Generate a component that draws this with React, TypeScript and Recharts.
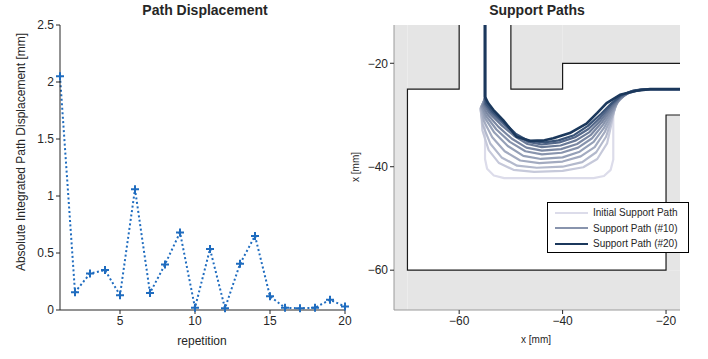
import {
  LineChart,
  Line,
  ScatterChart,
  Scatter,
  XAxis,
  YAxis,
  ReferenceArea,
} from "recharts";

// left panel: displacement per repetition
const repetitions = [1, 2, 3, 4, 5, 6, 7, 8, 9, 10, 11, 12, 13, 14, 15, 16, 17, 18, 19, 20];
const displacement = [
  2.05, 0.156, 0.32, 0.35, 0.13, 1.06, 0.15, 0.4, 0.68, 0.02,
  0.535, 0.015, 0.405, 0.65, 0.12, 0.02, 0.015, 0.02, 0.09, 0.03,
];
const repTicks = [5, 10, 15, 20];
const dispTicks = [0, 0.5, 1, 1.5, 2, 2.5];

// right panel: workspace walls and support paths (mm)
const xMin = -72.6;
const xMax = -17.3;
const yMin = -67.7;
const yMax = -12.6;
const mmTicks = [-60, -40, -20];

// gray blocked regions [x1, x2, y1, y2]
const blocked: [number, number, number, number][] = [
  [xMin, -70, yMin, yMax],
  [-70, xMax, yMin, -60],
  [-70, -60, -25, yMax],
  [-50, -40, -25, yMax],
  [-40, xMax, -20, yMax],
  [-20, xMax, -60, -30],
];

const wallA: [number, number][] = [
  [-60, yMax], [-60, -25], [-70, -25], [-70, -60], [-20, -60], [-20, -30], [xMax, -30],
];
const wallB: [number, number][] = [
  [xMax, -20], [-40, -20], [-40, -25], [-50, -25], [-50, yMax],
];

const path0: [number, number][] = [
  [-55, yMax], [-55, -38.5], [-54.6, -40.4], [-53.3, -41.7], [-51.3, -42.2], [-34, -42.2],
  [-32, -41.8], [-30.7, -40.6], [-30.2, -38.6], [-30.2, -30], [-29.7, -27.6], [-28.3, -26.1],
  [-25.8, -25.3], [-23, -25], [xMax, -25],
];
const path2: [number, number][] = [
  [-55, yMax], [-55, -27], [-55.8, -29], [-55.5, -33], [-54.3, -36.8], [-52.3, -39.3],
  [-49.5, -40.6], [-45.5, -41], [-40, -40.8], [-36, -40.1], [-33.3, -38.5], [-31.4, -35.5],
  [-30.5, -31.5], [-29.8, -28], [-28, -26], [-25.3, -25.2], [-23, -25], [xMax, -25],
];
const path4: [number, number][] = [
  [-55, yMax], [-55, -27], [-55.9, -28.8], [-55.4, -32], [-54, -35.5], [-51.8, -38.2],
  [-48.8, -39.8], [-45, -40.2], [-40, -40], [-36.2, -39.1], [-33.5, -37.2], [-31.6, -34.2],
  [-30.5, -30.8], [-29.6, -27.8], [-27.8, -25.9], [-25.2, -25.2], [-23, -25], [xMax, -25],
];
const path6: [number, number][] = [
  [-55, yMax], [-55, -26.9], [-55.8, -28.6], [-55.2, -31.2], [-53.6, -34.3], [-51.2, -37],
  [-48.2, -38.8], [-44.5, -39.3], [-40, -39], [-36.5, -38], [-33.8, -36.2], [-31.8, -33.2],
  [-30.4, -30], [-29.4, -27.5], [-27.6, -25.8], [-25, -25.1], [-23, -25], [xMax, -25],
];
const path8: [number, number][] = [
  [-55, yMax], [-55, -26.8], [-55.7, -28.4], [-55, -30.6], [-53.2, -33.4], [-50.6, -36],
  [-47.6, -37.9], [-44.2, -38.5], [-40, -38.2], [-36.7, -37.1], [-34, -35.2], [-32, -32.5],
  [-30.4, -29.5], [-29.2, -27.2], [-27.4, -25.7], [-25, -25.1], [-23, -25], [xMax, -25],
];
const path10: [number, number][] = [
  [-55, yMax], [-55, -26.7], [-55.6, -28.3], [-54.8, -30.2], [-52.8, -32.8], [-50.2, -35.2],
  [-47.2, -37], [-44, -37.6], [-40.2, -37.3], [-37, -36.3], [-34.3, -34.5], [-32.2, -31.9],
  [-30.4, -29.1], [-29, -27], [-27.2, -25.6], [-24.8, -25.1], [-23, -25], [xMax, -25],
];
const path12: [number, number][] = [
  [-55, yMax], [-55, -26.6], [-55.4, -28.2], [-54.5, -29.9], [-52.4, -32.3], [-49.8, -34.6],
  [-47, -36.3], [-44, -36.9], [-40.3, -36.6], [-37.2, -35.6], [-34.6, -33.9], [-32.4, -31.4],
  [-30.5, -28.8], [-28.9, -26.8], [-27, -25.5], [-24.7, -25.1], [-23, -25], [xMax, -25],
];
const path14: [number, number][] = [
  [-55, yMax], [-55, -26.6], [-55.2, -28], [-54.2, -29.6], [-52, -31.8], [-49.4, -34],
  [-46.8, -35.6], [-44, -36.2], [-40.4, -35.9], [-37.4, -34.9], [-34.8, -33.3], [-32.6, -31],
  [-30.6, -28.5], [-28.8, -26.6], [-26.8, -25.5], [-24.6, -25.1], [-23, -25], [xMax, -25],
];
const path16: [number, number][] = [
  [-55, yMax], [-55, -26.5], [-55, -27.9], [-53.9, -29.4], [-51.7, -31.5], [-49.2, -33.7],
  [-46.7, -35.2], [-44, -35.7], [-40.6, -35.3], [-37.6, -34.3], [-35, -32.7], [-32.7, -30.5],
  [-30.6, -28.1], [-28.8, -26.4], [-26.6, -25.4], [-24.4, -25.1], [-23, -25], [xMax, -25],
];
const path18: [number, number][] = [
  [-55, yMax], [-55, -26.5], [-54.8, -27.8], [-53.7, -29.2], [-51.6, -31.2], [-49.1, -33.6],
  [-46.6, -35], [-43.5, -35.3], [-40.8, -34.9], [-37.8, -33.9], [-35.1, -32.1], [-32.6, -29.8],
  [-30.5, -27.7], [-28.7, -26.2], [-26.4, -25.3], [-24.2, -25], [-23, -25], [xMax, -25],
];
const path20: [number, number][] = [
  [-55, yMax], [-55, -26.5], [-54.4, -27.7], [-53.4, -29], [-51.5, -31], [-48.9, -34.2],
  [-46.3, -35], [-43.5, -34.9], [-41.8, -34.5], [-38.6, -33.5], [-35.3, -31.6], [-33.3, -29.6],
  [-31.5, -27.7], [-28.9, -26.1], [-25.7, -25.3], [-23.1, -25], [xMax, -25],
];

const paths = [path0, path2, path4, path6, path8, path10, path12, path14, path16, path18, path20];
const pathColors = [
  "#dcdcea", "#c6c9da", "#b3b9cc", "#a3abc0", "#95a0b7", "#8894ad",
  "#7a87a2", "#6a7a97", "#54688a", "#3a5478", "#1b385c",
];
const legendItems = [
  { label: "Initial Support Path", color: "#dcdcea" },
  { label: "Support Path (#10)", color: "#8894ad" },
  { label: "Support Path (#20)", color: "#1b385c" },
];

const font = '"Liberation Sans", Arial, sans-serif';
const ink = "#262626";
const blue = "#1f6cbf";

const dispData = repetitions.map((r, i) => ({ rep: r, value: displacement[i] }));
const toPts = (p: [number, number][]) => p.map(([x, y]) => ({ x, y }));
const minus = (v: number) => String(v).replace("-", "\u2212");

const PlusDot = (props: any) => {
  const { cx, cy } = props;
  if (cx == null || cy == null) return null;
  return (
    <path
      d={`M${cx - 4},${cy}H${cx + 4}M${cx},${cy - 4}V${cy + 4}`}
      stroke={blue}
      strokeWidth={2}
      fill="none"
    />
  );
};

const NoShape = () => <g />;

const abs = (left: number, top: number, extra: React.CSSProperties = {}): React.CSSProperties => ({
  position: "absolute",
  left,
  top,
  fontFamily: font,
  color: ink,
  whiteSpace: "nowrap",
  ...extra,
});

export default function App() {
  return (
    <div style={{ position: "absolute", left: 0, top: 0, width: 708, height: 359, background: "#fff", fontFamily: font }}>
      {/* left: path displacement */}
      <div style={{ position: "absolute", left: 0, top: 0 }}>
        <LineChart width={360} height={359} data={dispData} margin={{ top: 25, right: 15, left: 0, bottom: 19 }}>
          <XAxis
            dataKey="rep"
            type="number"
            domain={[1, 20]}
            ticks={repTicks}
            tickSize={4}
            tick={{ fill: ink, fontSize: 12, fontFamily: font }}
            axisLine={{ stroke: ink }}
            tickLine={{ stroke: ink }}
            height={30}
          />
          <YAxis
            type="number"
            domain={[0, 2.5]}
            ticks={dispTicks}
            tickSize={4}
            tick={{ fill: ink, fontSize: 12, fontFamily: font }}
            axisLine={{ stroke: ink }}
            tickLine={{ stroke: ink }}
            width={60}
          />
          <Line
            dataKey="value"
            type="linear"
            stroke={blue}
            strokeWidth={2}
            strokeDasharray="2 2.5"
            dot={<PlusDot />}
            activeDot={false}
            isAnimationActive={false}
          />
        </LineChart>
      </div>
      <div style={abs(205, 2, { fontWeight: "bold", fontSize: 14, transform: "translateX(-50%)" })}>Path Displacement</div>
      <div style={abs(202, 334, { fontSize: 12, transform: "translateX(-50%)" })}>repetition</div>
      <div style={abs(21, 152, { fontSize: 12, transform: "translate(-50%, -50%) rotate(-90deg)" })}>
        Absolute Integrated Path Displacement [mm]
      </div>

      {/* right: support paths */}
      <div style={{ position: "absolute", left: 340, top: 0 }}>
        <ScatterChart width={368} height={359} margin={{ top: 25, right: 28, left: 0, bottom: 19 }}>
          <XAxis
            dataKey="x"
            type="number"
            domain={[xMin, xMax]}
            ticks={mmTicks}
            allowDataOverflow
            tickFormatter={minus}
            tickSize={4}
            tick={{ fill: ink, fontSize: 12, fontFamily: font }}
            axisLine={{ stroke: "#9a9a9a" }}
            tickLine={{ stroke: ink }}
            height={30}
          />
          <YAxis
            dataKey="y"
            type="number"
            domain={[yMin, yMax]}
            ticks={mmTicks}
            allowDataOverflow
            tickFormatter={minus}
            tickSize={4}
            tick={{ fill: ink, fontSize: 12, fontFamily: font }}
            axisLine={{ stroke: "#9a9a9a" }}
            tickLine={{ stroke: ink }}
            width={54}
          />
          {blocked.map(([x1, x2, y1, y2], i) => (
            <ReferenceArea key={`b${i}`} x1={x1} x2={x2} y1={y1} y2={y2} fill="#e5e5e5" fillOpacity={1} stroke="none" />
          ))}
          {[wallA, wallB].map((w, i) => (
            <Scatter
              key={`w${i}`}
              data={toPts(w)}
              line={{ stroke: "#1a1a1a", strokeWidth: 1.2 }}
              shape={NoShape}
              legendType="none"
              isAnimationActive={false}
            />
          ))}
          {paths.map((p, i) => (
            <Scatter
              key={`p${i}`}
              data={toPts(p)}
              line={{ stroke: pathColors[i], strokeWidth: i === paths.length - 1 ? 2.6 : 2.2, strokeLinejoin: "round" }}
              shape={NoShape}
              legendType="none"
              isAnimationActive={false}
            />
          ))}
        </ScatterChart>
      </div>
      <div style={abs(537, 2, { fontWeight: "bold", fontSize: 14, transform: "translateX(-50%)" })}>Support Paths</div>
      <div style={abs(536, 334, { fontSize: 10, transform: "translateX(-50%)" })}>x [mm]</div>
      <div style={abs(355, 167, { fontSize: 10, transform: "translate(-50%, -50%) rotate(-90deg)" })}>x [mm]</div>

      {/* legend */}
      <div
        style={{
          position: "absolute",
          left: 547,
          top: 202,
          width: 140,
          height: 49,
          border: "1.2px solid #000",
          background: "#fff",
          fontFamily: font,
          fontSize: 10,
          color: ink,
        }}
      >
        {legendItems.map((it, i) => (
          <div key={it.label} style={{ position: "absolute", left: 0, top: 2 + i * 15.5, height: 15, display: "flex", alignItems: "center" }}>
            <span style={{ display: "inline-block", width: 33, height: 2, marginLeft: 7, background: it.color }} />
            <span style={{ marginLeft: 5 }}>{it.label}</span>
          </div>
        ))}
      </div>
    </div>
  );
}
